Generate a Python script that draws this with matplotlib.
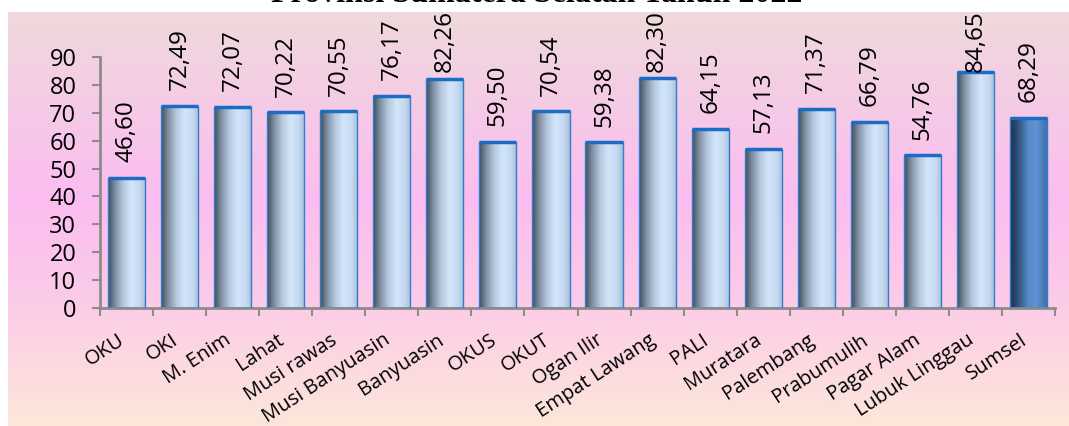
import numpy as np
import matplotlib
matplotlib.use("Agg")
import matplotlib.pyplot as plt
from matplotlib.colors import LinearSegmentedColormap

categories = ["OKU", "OKI", "M. Enim", "Lahat", "Musi rawas", "Musi Banyuasin",
              "Banyuasin", "OKUS", "OKUT", "Ogan Ilir", "Empat Lawang", "PALI",
              "Muratara", "Palembang", "Prabumulih", "Pagar Alam", "Lubuk Linggau",
              "Sumsel"]
values = [46.60, 72.49, 72.07, 70.22, 70.55, 76.17, 82.26, 59.50, 70.54, 59.38,
          82.30, 64.15, 57.13, 71.37, 66.79, 54.76, 84.65, 68.29]
value_labels = ["46,60", "72,49", "72,07", "70,22", "70,55", "76,17", "82,26", "59,50",
                "70,54", "59,38", "82,30", "64,15", "57,13", "71,37", "66,79", "54,76",
                "84,65", "68,29"]
yticks = [0, 10, 20, 30, 40, 50, 60, 70, 80, 90]
title = "Provinsi Sumatera Selatan Tahun 2022"

W, H = 1069, 426
fig = plt.figure(figsize=(W / 100, H / 100), dpi=100)
fig.patch.set_facecolor("white")

# background panel gradient
bg = fig.add_axes([8 / W, 0, 1 - 8 / W, (H - 12) / H], zorder=0)
bg_cmap = LinearSegmentedColormap.from_list(
    "bg", [(0.0, "#efd9dc"), (0.45, "#fbbdf0"), (0.7, "#fccbe8"), (1.0, "#fde7da")])
grad = np.linspace(0, 1, 256).reshape(-1, 1)
bg.imshow(grad, cmap=bg_cmap, aspect="auto", extent=[0, 1, 0, 1], origin="upper")
bg.set_axis_off()

ax = fig.add_axes([100 / W, (H - 308) / H, (1055 - 100) / W, (308 - 57) / H], zorder=1)
ax.set_facecolor("none")

x = np.arange(len(categories))
bars = ax.bar(x, values, width=0.7, facecolor="none", edgecolor="#2f7fd0",
              linewidth=1.0, zorder=3)

bar_cmap = LinearSegmentedColormap.from_list(
    "bar", [(0.0, "#3e4956"), (0.18, "#7d8da0"), (0.4, "#b5c8de"), (0.62, "#d3e5fb"),
            (0.85, "#c4d8f0"), (1.0, "#a8bed8")])
sum_cmap = LinearSegmentedColormap.from_list(
    "sum", [(0.0, "#1c2f48"), (0.2, "#2f4f78"), (0.5, "#5a8ccc"), (0.7, "#5f93d3"),
            (1.0, "#3e6ca6")])
hgrad = np.linspace(0, 1, 256).reshape(1, -1)
for i, b in enumerate(bars):
    x0, w, h = b.get_x(), b.get_width(), b.get_height()
    cm = sum_cmap if categories[i] == "Sumsel" else bar_cmap
    im = ax.imshow(hgrad, cmap=cm, aspect="auto", extent=[x0, x0 + w, 0, h],
                   zorder=2, interpolation="bilinear")
    im.set_clip_path(b)
    ax.plot([x0, x0 + w], [h, h], color="#1a6cc4", lw=2.5, zorder=4,
            solid_capstyle="butt")

ax.set_xlim(-0.5, len(categories) - 0.5)
ax.set_ylim(0, 90)

# value labels (rotated, kept inside the chart area)
for xi, v, lab in zip(x, values, value_labels):
    yl = min(v + 5.6, 84.8)
    ax.text(xi, yl, lab, rotation=90, ha="center", va="bottom",
            fontsize=17.5, family="Open Sans", color="black", zorder=5)

for s in ["top", "right"]:
    ax.spines[s].set_visible(False)
for s in ["left", "bottom"]:
    ax.spines[s].set_color("#8c8c8c")
    ax.spines[s].set_linewidth(2)

ax.set_yticks(yticks)
ax.set_yticklabels([str(t) for t in yticks], fontsize=17, family="Open Sans")
ax.tick_params(axis="y", length=6, width=1.5, color="#8c8c8c", pad=11)

ax.set_xticks(np.arange(-0.5, len(categories), 1.0))
ax.set_xticklabels([])
ax.tick_params(axis="x", length=6, width=1.5, color="#8c8c8c")
ax.set_xticks(x - 0.06, minor=True)
ax.set_xticklabels(categories, minor=True, rotation=33, ha="right", va="center",
                   rotation_mode="anchor", fontsize=14.5, family="Open Sans")
ax.tick_params(axis="x", which="minor", length=0, pad=22)

fig.text(537 / W, 1 - 2.0 / H, title, ha="center", va="baseline", fontsize=23,
         family="Liberation Serif", weight="bold", color="black")

fig.savefig("out.png", dpi=100)
